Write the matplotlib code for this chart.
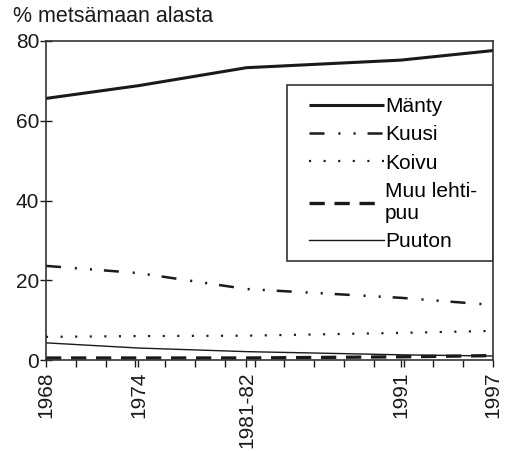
import numpy as np
import matplotlib
matplotlib.use("Agg")
import matplotlib.pyplot as plt
from matplotlib.patches import Rectangle

plt.rcParams['font.family'] = ['Liberation Sans', 'DejaVu Sans']
plt.rcParams['lines.scale_dashes'] = False

years = [1968, 1974, 1981, 1991, 1997]
year_labels = ["1968", "1974", "1981-82", "1991", "1997"]
manty = [65.6, 68.8, 73.3, 75.2, 77.6]
kuusi = [23.6, 21.8, 17.8, 15.6, 13.8]
koivu = [5.8, 6.0, 6.1, 6.8, 7.3]
muu = [0.5, 0.5, 0.5, 0.8, 1.1]
puuton = [4.3, 3.0, 2.1, 1.3, 1.0]
yticks = [0, 20, 40, 60, 80]

fig = plt.figure(figsize=(5.11, 4.51), dpi=100)
ax = fig.add_axes([46/511, 1-360/451, 447/511, 319/451])

c = '#1a1a1a'
ax.plot(years, manty, color=c, lw=2.2, solid_capstyle='butt', label='Mänty')
l2, = ax.plot(years, kuusi, color=c, lw=1.8, label='Kuusi')
l2.set_dashes([10.8, 10, 1.5, 9.4, 1.5, 8.6])
l3, = ax.plot(years, koivu, color=c, lw=1.6, label='Koivu')
l3.set_dashes([1.5, 9.0])
l4, = ax.plot(years, muu, color=c, lw=2.4, label='Muu lehti-\npuu')
l4.set_dashes([11, 7])
ax.plot(years, puuton, color=c, lw=1.0, label='Puuton')

ax.set_xlim(1968, 1997)
ax.set_ylim(0, 80)
ax.set_yticks(yticks)
ax.set_yticklabels([str(v) for v in yticks], fontsize=15)
ax.set_xticks(years)
ax.set_xticklabels(year_labels, rotation=90, fontsize=15)
ax.set_xticks(np.linspace(1968, 1997, 16), minor=True)
ax.tick_params(axis='y', direction='inout', length=8, width=1.0, colors=c, pad=1)
ax.tick_params(axis='x', which='both', direction='out', length=5, width=1.0, colors=c, pad=3)

for s in ax.spines.values():
    s.set_color('#333333')
    s.set_linewidth(1.2)

ax.add_patch(Rectangle((0.539, 0.31), 0.461, 0.552, transform=ax.transAxes,
                       fill=False, edgecolor='#333333', lw=1.2, zorder=5))
leg = ax.legend(loc='upper left', bbox_to_anchor=(0.588, 0.825), frameon=False,
                fontsize=15, handlelength=3.6, handletextpad=0.05,
                labelspacing=0.45, borderaxespad=0, borderpad=0)

fig.text(13/511, 1-17/451, '% metsämaan alasta', fontsize=15.5, va='center', ha='left', color=c)

fig.savefig('out.png', dpi=100, facecolor='white')
